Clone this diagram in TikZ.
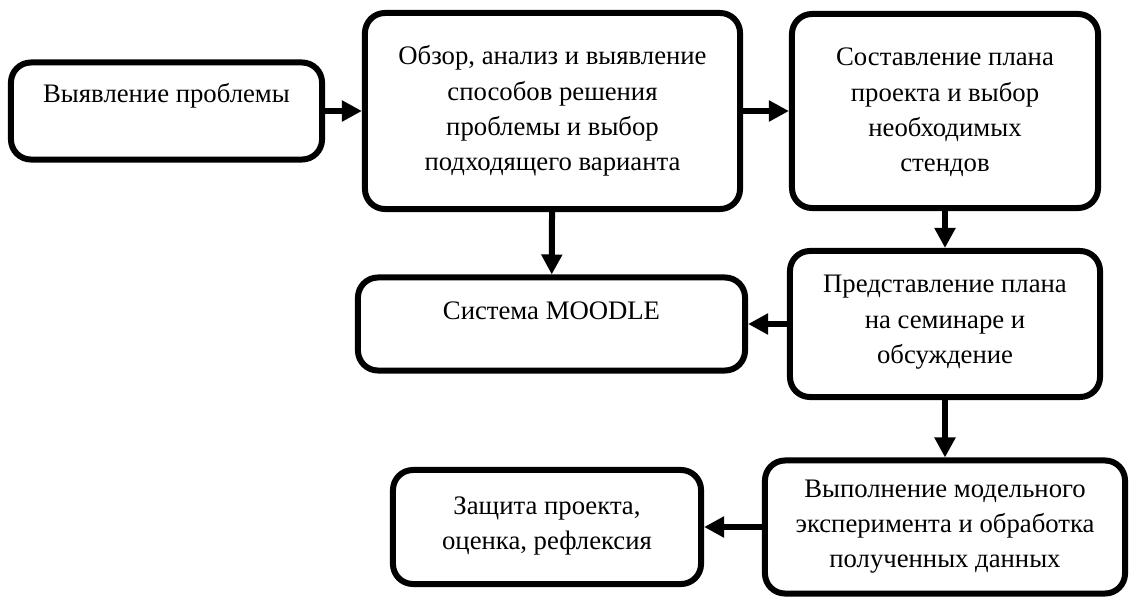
\documentclass[tikz,border=0pt]{standalone}
\usepackage{fontspec}
\setmainfont{Liberation Serif}
\usepackage{tikz}
\usetikzlibrary{arrows.meta}

% text of a block: width, height, first baseline, lines
\newcommand{\blocktext}[4]{\parbox[c][#2][t]{#1}{\centering\rule{0pt}{#3}#4}}

\begin{document}
\begin{tikzpicture}[x=0.025cm, y=-0.025cm,
    every node/.style={font=\fontsize{19}{25}\selectfont},
    blok/.style={draw, line width=0.15cm, rounded corners=0.5cm, inner sep=0pt},
    strelka/.style={line width=0.15cm, -{Triangle[length=0.5cm,width=0.5cm]}}]
    \useasboundingbox (0,0) rectangle (1132,599);

    % Top row
    \node[blok] (problema) at (166.5,111) {\blocktext{7.775cm}{2.425cm}{1.0cm}{Выявление проблемы}};
    \node[blok] (obzor) at (552.5,111) {\blocktext{9.375cm}{4.9cm}{1.3cm}{Обзор, анализ и выявление\\ способов решения\\ проблемы и выбор\\ подходящего варианта}};
    \node[blok] (plan) at (945,111) {\blocktext{7.65cm}{4.85cm}{1.3cm}{Составление плана\\ проекта и выбор\\ необходимых\\ стендов}};

    % Middle row
    \node[blok] (moodle) at (551.5,324) {\blocktext{9.675cm}{2.325cm}{1.04cm}{Система MOODLE}};
    \node[blok] (seminar) at (945,324) {\blocktext{7.75cm}{3.65cm}{1.05cm}{Представление плана\\ на семинаре и\\ обсуждение}};

    % Bottom row
    \node[blok] (eksperiment) at (945,527) {\blocktext{9.0cm}{3.325cm}{0.925cm}{Выполнение модельного\\ эксперимента и обработка\\ полученных данных}};
    \node[blok] (zashchita) at (547,527) {\blocktext{7.7cm}{2.85cm}{1.1cm}{Защита проекта,\\ оценка, рефлексия}};

    % Arrows
    \draw[strelka] (problema) -- (obzor);
    \draw[strelka] (obzor) -- (plan);
    \draw[strelka] (obzor) -- (moodle);
    \draw[strelka] (plan) -- (seminar);
    \draw[strelka] (seminar) -- (moodle);
    \draw[strelka] (seminar) -- (eksperiment);
    \draw[strelka] (eksperiment) -- (zashchita);
\end{tikzpicture}
\end{document}
